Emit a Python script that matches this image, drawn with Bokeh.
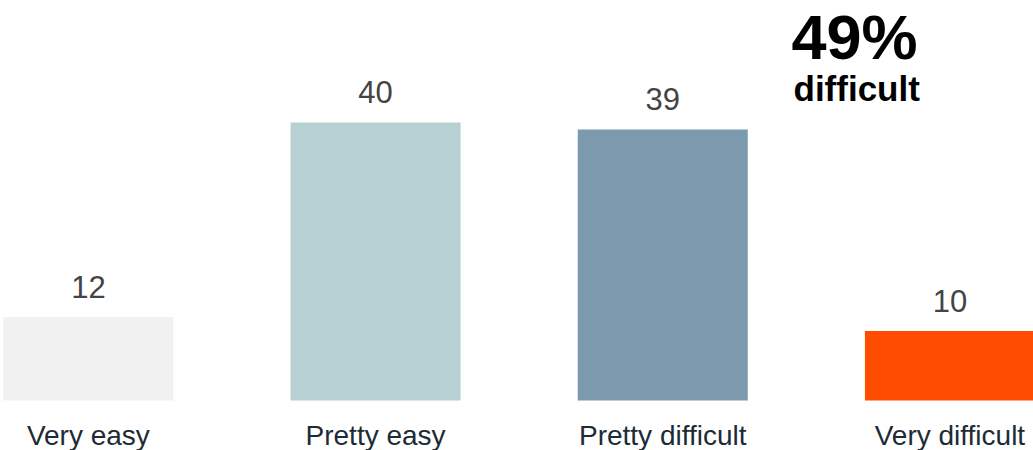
from bokeh.plotting import figure
from bokeh.models import ColumnDataSource, Range1d, Label
from bokeh.core.properties import value
from bokeh.embed import file_html
from bokeh.resources import INLINE

categories = ["Very easy", "Pretty easy", "Pretty difficult", "Very difficult"]
values = [12, 40, 39, 10]
colors = ["#f1f1f1", "#b6d0d3", "#7b9aae", "#ff4c00"]
headline = "49%"
headline_sub = "difficult"

W, H = 1033, 450
src = ColumnDataSource(dict(
    x=list(range(len(categories))),
    top=values,
    color=colors,
    cat=categories,
    lab=[str(v) for v in values],
    zero=[0] * len(values),
))

p = figure(width=W, height=H, output_backend="svg", toolbar_location=None,
           x_range=Range1d(-0.306, 3.291), y_range=Range1d(-7.19, 57.55),
           min_border=0, min_border_left=0, min_border_right=0,
           min_border_top=0, min_border_bottom=0)
p.axis.visible = False
p.grid.visible = False
p.outline_line_color = None
p.background_fill_color = "white"
p.border_fill_color = "white"

p.vbar(x="x", top="top", bottom=0, width=0.592, color="color", line_color=None, source=src)

p.text(x="x", y="top", text="lab", source=src, text_align="center",
       text_baseline="bottom", y_offset=-19,
       text_font=value("Liberation Sans"), text_font_size="31px", text_color="#444444")

p.text(x="x", y="zero", text="cat", source=src, text_align="center",
       text_baseline="middle", y_offset=35,
       text_font=value("Liberation Sans"), text_font_size="28px", text_color="#1c2b36")

p.add_layout(Label(x=791, y=H - 1, x_units="screen", y_units="screen", text=headline,
                   text_font="Liberation Sans", text_font_style="bold",
                   text_font_size="63px", text_color="#000000",
                   text_baseline="top", text_align="left"))
p.add_layout(Label(x=793, y=H - 88, x_units="screen", y_units="screen", text=headline_sub,
                   text_font="Liberation Sans", text_font_style="bold",
                   text_font_size="35px", text_color="#000000",
                   text_baseline="alphabetic", text_align="left"))

open("out.html", "w").write(file_html(p, INLINE))
